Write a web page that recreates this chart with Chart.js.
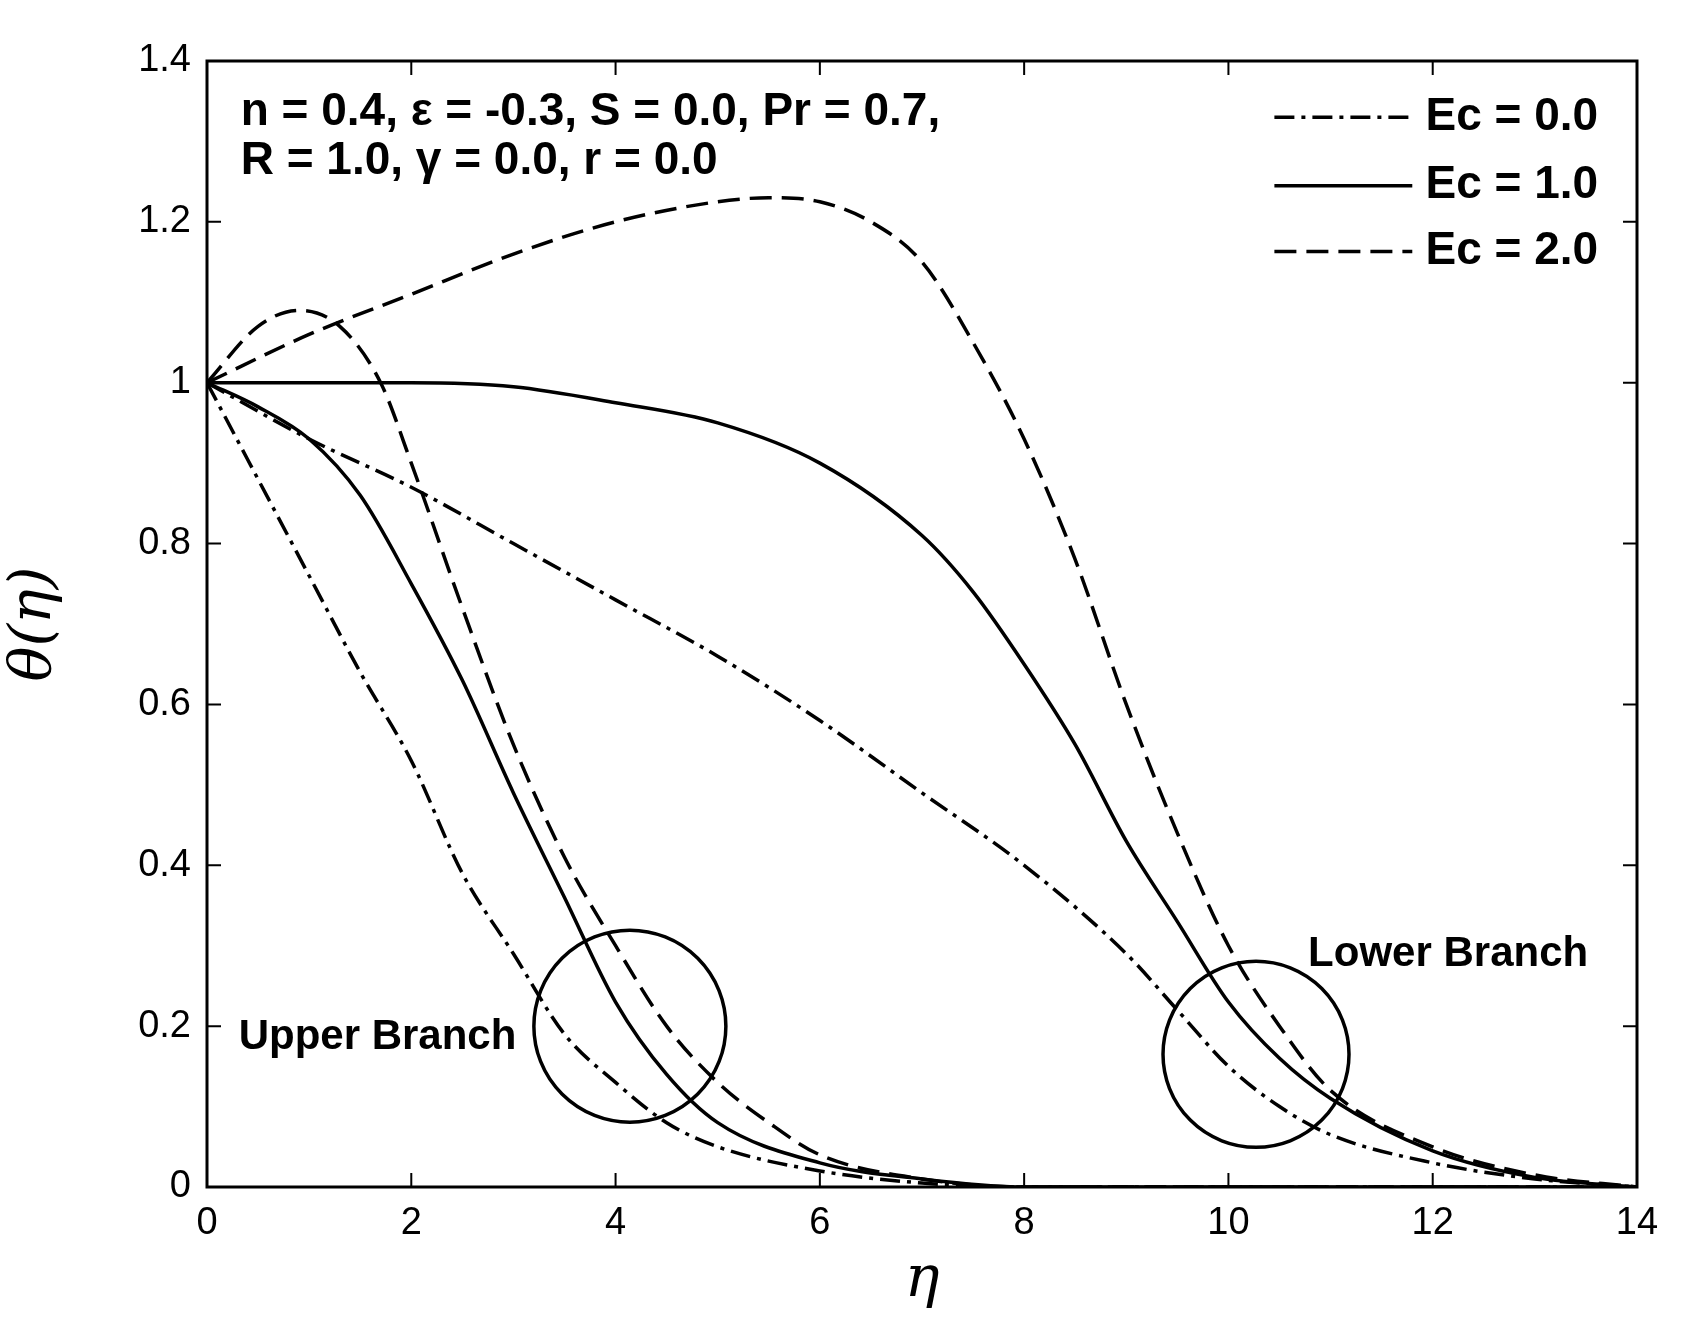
<!DOCTYPE html>
<html>
<head>
<meta charset="utf-8">
<script src="https://cdn.jsdelivr.net/npm/chart.js@4/dist/chart.umd.min.js"></script>
<style>
  html, body { margin: 0; padding: 0; background: #fff; }
  #wrap { width: 1703px; height: 1336px; }
</style>
</head>
<body>
<div id="wrap"><canvas id="myChart"></canvas></div>
<script>
// values, eta vs theta
const ec0UpperX = [0, 0.5, 1, 1.5, 2, 2.5, 3, 3.5, 4, 4.5, 5, 6, 7, 8, 14];
const ec0UpperY = [1, 0.88, 0.76, 0.64, 0.53, 0.39, 0.29, 0.19, 0.13, 0.08, 0.05, 0.02, 0.005, 0, 0];
const ec0LowerX = [0, 1, 2, 3, 4, 5, 6, 7, 8, 9, 9.5, 10, 10.5, 11, 12, 13, 14];
const ec0LowerY = [1, 0.93, 0.87, 0.80, 0.73, 0.66, 0.58, 0.49, 0.40, 0.29, 0.22, 0.15, 0.10, 0.065, 0.03, 0.01, 0];
const ec1UpperX = [0, 0.5, 1, 1.5, 2, 2.5, 3, 3.5, 4, 4.5, 5, 6, 7, 8, 14];
const ec1UpperY = [1, 0.97, 0.93, 0.86, 0.75, 0.63, 0.49, 0.36, 0.23, 0.14, 0.08, 0.03, 0.01, 0, 0];
const ec1LowerX = [0, 1, 2, 3, 4, 5, 6, 7, 7.5, 8, 8.5, 9, 9.5, 10, 10.5, 11, 12, 13, 14];
const ec1LowerY = [1, 1, 1, 0.995, 0.975, 0.95, 0.9, 0.81, 0.74, 0.65, 0.55, 0.43, 0.33, 0.23, 0.16, 0.11, 0.045, 0.012, 0];
const ec2UpperX = [0, 0.5, 0.9, 1.3, 1.7, 2, 2.5, 3, 3.5, 4, 4.5, 5, 5.5, 6, 7, 8, 14];
const ec2UpperY = [1, 1.07, 1.09, 1.07, 1.0, 0.9, 0.72, 0.55, 0.41, 0.3, 0.2, 0.13, 0.08, 0.04, 0.01, 0, 0];
const ec2LowerX = [0, 1, 2, 3, 4, 5, 5.5, 6, 6.5, 7, 7.5, 8, 8.5, 9, 9.5, 10, 10.5, 11, 12, 13, 14];
const ec2LowerY = [1, 1.06, 1.11, 1.16, 1.2, 1.225, 1.23, 1.225, 1.2, 1.15, 1.05, 0.93, 0.78, 0.6, 0.44, 0.3, 0.2, 0.12, 0.05, 0.015, 0];

// branch circles: centre (eta, theta), radius in pixels
const circleX = [4.14, 10.27];
const circleY = [0.2, 0.165];
const circleR = [96, 93];

const xTicks = [0, 2, 4, 6, 8, 10, 12, 14];
const yTicks = [0, 0.2, 0.4, 0.6, 0.8, 1, 1.2, 1.4];

const DASHDOT = [20, 7, 4, 7];
const DASH = [22, 10];

function pts(xs, ys) {
    var out = [];
    for (var i = 0; i < xs.length; i++) out.push({x: xs[i], y: ys[i]});
    return out;
}
function line(xs, ys, dash) {
    return {data: pts(xs, ys), borderColor: "#000", borderWidth: 3.5, borderDash: dash,
            pointRadius: 0, tension: 0.4, cubicInterpolationMode: "monotone", fill: false};
}

const frame = {
    id: "frame",
    afterDraw(chart) {
        const c = chart.ctx, a = chart.chartArea, xs = chart.scales.x, ys = chart.scales.y;
        c.save();
        c.strokeStyle = "#000"; c.lineWidth = 3; c.setLineDash([]);
        c.strokeRect(a.left, a.top, a.right - a.left, a.bottom - a.top);
        c.lineWidth = 2;
        xTicks.forEach(v => {
            const p = xs.getPixelForValue(v);
            c.beginPath(); c.moveTo(p, a.bottom); c.lineTo(p, a.bottom - 14);
            c.moveTo(p, a.top); c.lineTo(p, a.top + 14); c.stroke();
        });
        yTicks.forEach(v => {
            const p = ys.getPixelForValue(v);
            c.beginPath(); c.moveTo(a.left, p); c.lineTo(a.left + 14, p);
            c.moveTo(a.right, p); c.lineTo(a.right - 14, p); c.stroke();
        });
        // circles
        c.lineWidth = 3.5;
        for (var i = 0; i < circleX.length; i++) {
            c.beginPath();
            c.arc(xs.getPixelForValue(circleX[i]), ys.getPixelForValue(circleY[i]), circleR[i], 0, 2 * Math.PI);
            c.stroke();
        }
        // text
        c.fillStyle = "#000";
        c.font = "bold 46px 'Liberation Sans', Arial";
        c.textBaseline = "middle"; c.textAlign = "left";
        c.fillText("n = 0.4, \u03b5 = -0.3, S = 0.0, Pr = 0.7,", xs.getPixelForValue(0.33), ys.getPixelForValue(1.336));
        c.fillText("R = 1.0, \u03b3 = 0.0, r = 0.0", xs.getPixelForValue(0.33), ys.getPixelForValue(1.275));
        c.font = "bold 42px 'Liberation Sans', Arial";
        c.fillText("Upper Branch", xs.getPixelForValue(0.31), ys.getPixelForValue(0.186));
        c.fillText("Lower Branch", xs.getPixelForValue(10.78), ys.getPixelForValue(0.289));
        // legend
        const labels = ["Ec = 0.0", "Ec = 1.0", "Ec = 2.0"];
        const dashes = [DASHDOT, [], DASH];
        const ly = [1.33, 1.245, 1.163];
        c.font = "bold 46px 'Liberation Sans', Arial";
        c.textAlign = "right";
        for (var k = 0; k < 3; k++) {
            const y = ys.getPixelForValue(ly[k]);
            c.setLineDash(dashes[k]); c.lineWidth = 3.5;
            c.beginPath(); c.moveTo(xs.getPixelForValue(10.45), y); c.lineTo(xs.getPixelForValue(11.8), y); c.stroke();
            c.setLineDash([]);
            c.fillText(labels[k], xs.getPixelForValue(13.62), y);
        }
        c.restore();
    }
};

new Chart(document.getElementById("myChart"), {
    type: "line",
    data: {
        datasets: [
            line(ec0UpperX, ec0UpperY, DASHDOT),
            line(ec0LowerX, ec0LowerY, DASHDOT),
            line(ec1UpperX, ec1UpperY, []),
            line(ec1LowerX, ec1LowerY, []),
            line(ec2UpperX, ec2UpperY, DASH),
            line(ec2LowerX, ec2LowerY, DASH)
        ]
    },
    options: {
        responsive: true, maintainAspectRatio: false, animation: false,
        layout: {padding: {left: 0, top: 61, right: 66, bottom: 0}},
        plugins: {legend: {display: false}, tooltip: {enabled: false}},
        scales: {
            x: {
                type: "linear", min: 0, max: 14,
                afterBuildTicks: s => { s.ticks = xTicks.map(v => ({value: v})); },
                afterFit: s => { s.height = 149; },
                grid: {display: false}, border: {display: false},
                ticks: {color: "#000", font: {size: 38, family: "'Liberation Sans', Arial"}, padding: 6, maxRotation: 0},
                title: {display: true, text: "\u03b7", color: "#000", padding: {top: 0, bottom: 20},
                        font: {size: 58, family: "'DejaVu Serif', serif", style: "italic"}}
            },
            y: {
                type: "linear", min: 0, max: 1.4,
                afterBuildTicks: s => { s.ticks = yTicks.map(v => ({value: v})); },
                afterFit: s => { s.width = 207; },
                grid: {display: false}, border: {display: false},
                ticks: {color: "#000", font: {size: 38, family: "'Liberation Sans', Arial"}, padding: 8,
                        callback: v => String(Number(v.toFixed(1)))},
                title: {display: true, text: "\u03b8(\u03b7)", color: "#000", padding: {top: 0, bottom: 0},
                        font: {size: 58, family: "'DejaVu Serif', serif", style: "italic"}}
            }
        }
    },
    plugins: [frame]
});
</script>
</body>
</html>
